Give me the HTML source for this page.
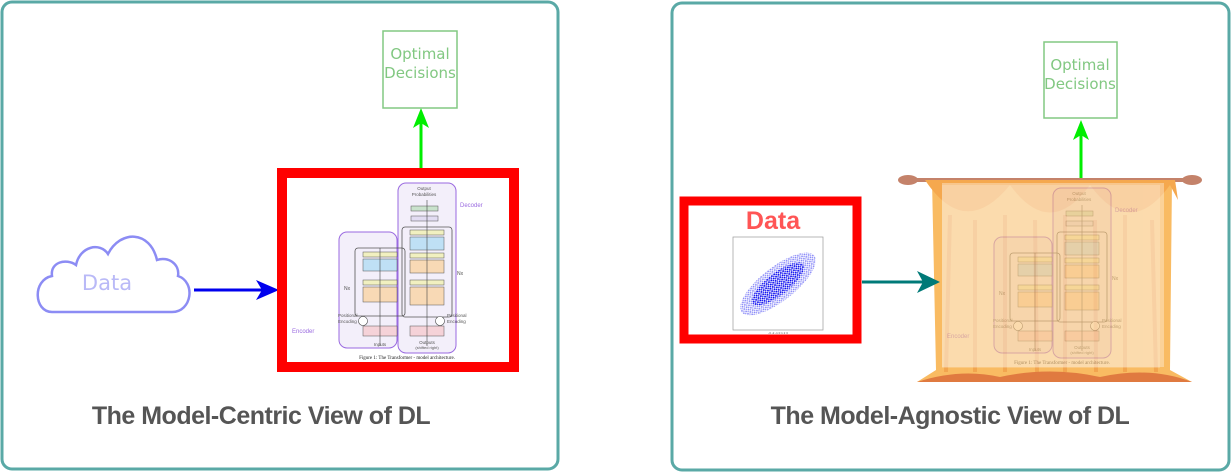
<!DOCTYPE html>
<html><head><meta charset="utf-8"><style>
html,body{margin:0;padding:0;background:#fff;width:1231px;height:473px;overflow:hidden}
svg{display:block}
</style></head><body>
<svg width="1231" height="473" viewBox="0 0 1231 473" xmlns="http://www.w3.org/2000/svg" font-family="Liberation Sans, sans-serif">
<defs>
<pattern id="dots" width="3" height="3" patternUnits="userSpaceOnUse">
  <circle cx="1" cy="1" r="0.9" fill="#0000ee"/><circle cx="2.5" cy="2.5" r="0.7" fill="#0000ee"/>
</pattern>
<g id="tf">
  <rect x="0" y="0" width="222" height="184" fill="#fff"/>
  <rect x="52" y="54" width="58" height="116" rx="8" fill="#f3effa" stroke="#9a6ae0" stroke-width="1"/>
  <rect x="111" y="5" width="58" height="170" rx="8" fill="#f3effa" stroke="#9a6ae0" stroke-width="1"/>
  <rect x="68" y="70" width="50" height="68" rx="3" fill="none" stroke="#555" stroke-width="0.8"/>
  <rect x="115" y="49" width="50" height="90" rx="3" fill="none" stroke="#555" stroke-width="0.8"/>
  <rect x="76" y="74" width="34" height="5" fill="#f1f0c0" stroke="#555" stroke-width="0.5"/>
  <rect x="76" y="81" width="34" height="12" fill="#bfe0f5" stroke="#555" stroke-width="0.5"/>
  <rect x="76" y="102" width="34" height="5" fill="#f1f0c0" stroke="#555" stroke-width="0.5"/>
  <rect x="76" y="109" width="34" height="15" fill="#f8d9b5" stroke="#555" stroke-width="0.5"/>
  <rect x="76" y="148" width="34" height="10" fill="#f5d2d8" stroke="#555" stroke-width="0.5"/>
  <rect x="124" y="28" width="27" height="5" fill="#c9e2cc" stroke="#555" stroke-width="0.5"/>
  <rect x="124" y="38" width="27" height="5" fill="#e2dcf2" stroke="#555" stroke-width="0.5"/>
  <rect x="123" y="52" width="34" height="5" fill="#f1f0c0" stroke="#555" stroke-width="0.5"/>
  <rect x="123" y="59" width="34" height="13" fill="#bfe0f5" stroke="#555" stroke-width="0.5"/>
  <rect x="123" y="75" width="34" height="5" fill="#f1f0c0" stroke="#555" stroke-width="0.5"/>
  <rect x="123" y="82" width="34" height="13" fill="#f8d9b5" stroke="#555" stroke-width="0.5"/>
  <rect x="123" y="102" width="34" height="5" fill="#f1f0c0" stroke="#555" stroke-width="0.5"/>
  <rect x="123" y="109" width="34" height="18" fill="#f8d9b5" stroke="#555" stroke-width="0.5"/>
  <rect x="123" y="148" width="34" height="10" fill="#f5d2d8" stroke="#555" stroke-width="0.5"/>
  <line x1="93" y1="70" x2="93" y2="168" stroke="#444" stroke-width="0.6"/>
  <line x1="140" y1="22" x2="140" y2="168" stroke="#444" stroke-width="0.6"/>
  <circle cx="76" cy="143" r="4.5" fill="#fff" stroke="#444" stroke-width="0.6"/>
  <circle cx="153" cy="143" r="4.5" fill="#fff" stroke="#444" stroke-width="0.6"/>
  <text x="137" y="12" font-size="4.5" fill="#555" text-anchor="middle">Output</text>
  <text x="137" y="18" font-size="4.5" fill="#555" text-anchor="middle">Probabilities</text>
  <text x="173" y="29" font-size="6" fill="#9a6ae0">Decoder</text>
  <text x="5" y="155" font-size="6" fill="#9a6ae0">Encoder</text>
  <text x="57" y="112" font-size="5" fill="#555">Nx</text>
  <text x="170" y="97" font-size="5" fill="#555">Nx</text>
  <text x="51" y="139" font-size="4.5" fill="#555">Positional</text>
  <text x="51" y="145" font-size="4.5" fill="#555">Encoding</text>
  <text x="160" y="139" font-size="4.5" fill="#555">Positional</text>
  <text x="160" y="145" font-size="4.5" fill="#555">Encoding</text>
  <text x="93" y="168" font-size="4.5" fill="#555" text-anchor="middle">Inputs</text>
  <text x="140" y="166" font-size="4.5" fill="#555" text-anchor="middle">Outputs</text>
  <text x="140" y="171" font-size="4" fill="#555" text-anchor="middle">(shifted right)</text>
  <text x="120" y="181" font-size="5" fill="#222" text-anchor="middle" font-family="Liberation Serif, serif">Figure 1: The Transformer - model architecture.</text>
</g>
</defs>

<rect x="2" y="2" width="556" height="467" rx="10" fill="#fff" stroke="#5aa9a6" stroke-width="3"/>
<rect x="672" y="3" width="557" height="467" rx="10" fill="#fff" stroke="#5aa9a6" stroke-width="3"/>

<!-- LEFT -->
<path d="M52 312 C34 312 32 280 52 276 C50 262 66 258 76 265 C80 246 100 242 108 254 C120 230 150 230 157 260 C168 256 180 264 178 276 C196 282 192 312 172 312 Z" fill="#fff" stroke="#8c8cf4" stroke-width="2.5"/>
<text x="107" y="290" font-size="21" fill="#b9b9f7" text-anchor="middle" font-family="DejaVu Sans, sans-serif">Data</text>
<line x1="194" y1="290" x2="262" y2="290" stroke="#0000ee" stroke-width="3"/>
<polygon points="256,280 279,290 256,300 262,290" fill="#0000ee"/>

<rect x="282" y="173" width="232" height="194" fill="#fff" stroke="#ff0000" stroke-width="10"/>
<g transform="translate(287,178)"><use href="#tf"/></g>

<line x1="421" y1="168" x2="421" y2="122" stroke="#00ee00" stroke-width="3"/>
<polygon points="413,128 421,108 429,128 421,123" fill="#00ee00"/>
<rect x="383" y="31" width="74" height="77" fill="#fff" stroke="#82c882" stroke-width="1.5"/>
<text x="420" y="59" font-size="15" fill="#82c882" text-anchor="middle" font-family="DejaVu Sans, sans-serif">Optimal</text>
<text x="420" y="78" font-size="15" fill="#82c882" text-anchor="middle" font-family="DejaVu Sans, sans-serif">Decisions</text>
<text x="261" y="424" font-size="25" font-weight="bold" fill="#555" text-anchor="middle" letter-spacing="-0.5">The Model-Centric View of DL</text>

<!-- RIGHT -->
<rect x="1044" y="42" width="73" height="76" fill="#fff" stroke="#82c882" stroke-width="1.5"/>
<text x="1080" y="70" font-size="15" fill="#82c882" text-anchor="middle" font-family="DejaVu Sans, sans-serif">Optimal</text>
<text x="1080" y="89" font-size="15" fill="#82c882" text-anchor="middle" font-family="DejaVu Sans, sans-serif">Decisions</text>
<line x1="1081" y1="178" x2="1081" y2="134" stroke="#00ee00" stroke-width="3"/>
<polygon points="1073,140 1081,120 1089,140 1081,135" fill="#00ee00"/>

<!-- curtain -->
<g>
  <rect x="905" y="178" width="290" height="4" fill="#c4826a"/>
  <ellipse cx="908" cy="180" rx="10" ry="5" fill="#c4826a"/>
  <ellipse cx="1192" cy="180" rx="10" ry="5" fill="#c4826a"/>
  <path d="M932 180 L1172 180 L1170 370 L1192 382 L917 382 L936 370 Z" fill="#f9bb62"/>
  <path d="M925 180 Q965 240 1010 185 Q1050 240 1090 185 Q1130 240 1170 185 L1178 200 L1175 180 Z" fill="#f5a84e"/>
  <g stroke="#ee9440" stroke-width="4" opacity="0.55">
    <line x1="950" y1="215" x2="946" y2="372"/><line x1="975" y1="220" x2="975" y2="372"/>
    <line x1="1005" y1="215" x2="1005" y2="372"/><line x1="1035" y1="220" x2="1037" y2="372"/>
    <line x1="1065" y1="215" x2="1065" y2="372"/><line x1="1095" y1="220" x2="1096" y2="372"/>
    <line x1="1125" y1="215" x2="1125" y2="372"/><line x1="1152" y1="220" x2="1156" y2="372"/>
  </g>
  <path d="M917 382 Q960 368 1000 377 Q1050 366 1100 377 Q1150 366 1192 382 Z" fill="#e07a40"/>
  <rect x="942" y="185" width="218" height="183" fill="#fff" opacity="0.2"/>
  <g transform="translate(942,183)" opacity="0.35"><use href="#tf"/></g>
</g>

<line x1="862" y1="282" x2="925" y2="282" stroke="#007a78" stroke-width="3"/>
<polygon points="917,271 940,282 917,293 923,282" fill="#007a78"/>

<rect x="684" y="201" width="173" height="138" fill="#fff" stroke="#ff0000" stroke-width="9"/>
<text x="773" y="229" font-size="25" font-weight="bold" fill="#ff5555" text-anchor="middle">Data</text>
<rect x="733" y="237" width="90" height="93" fill="#fff" stroke="#999" stroke-width="0.7"/>
<ellipse cx="778" cy="284" rx="46" ry="17" transform="rotate(-38 778 284)" fill="url(#dots)" opacity="0.5"/>
<ellipse cx="778" cy="284" rx="32" ry="11" transform="rotate(-38 778 284)" fill="url(#dots)"/>
<text x="778" y="334" font-size="3" fill="#555" text-anchor="middle">-3  -2  -1  0  1  2  3</text>
<text x="950" y="424" font-size="25" font-weight="bold" fill="#555" text-anchor="middle" letter-spacing="-0.5">The Model-Agnostic View of DL</text>
</svg>
</body></html>
